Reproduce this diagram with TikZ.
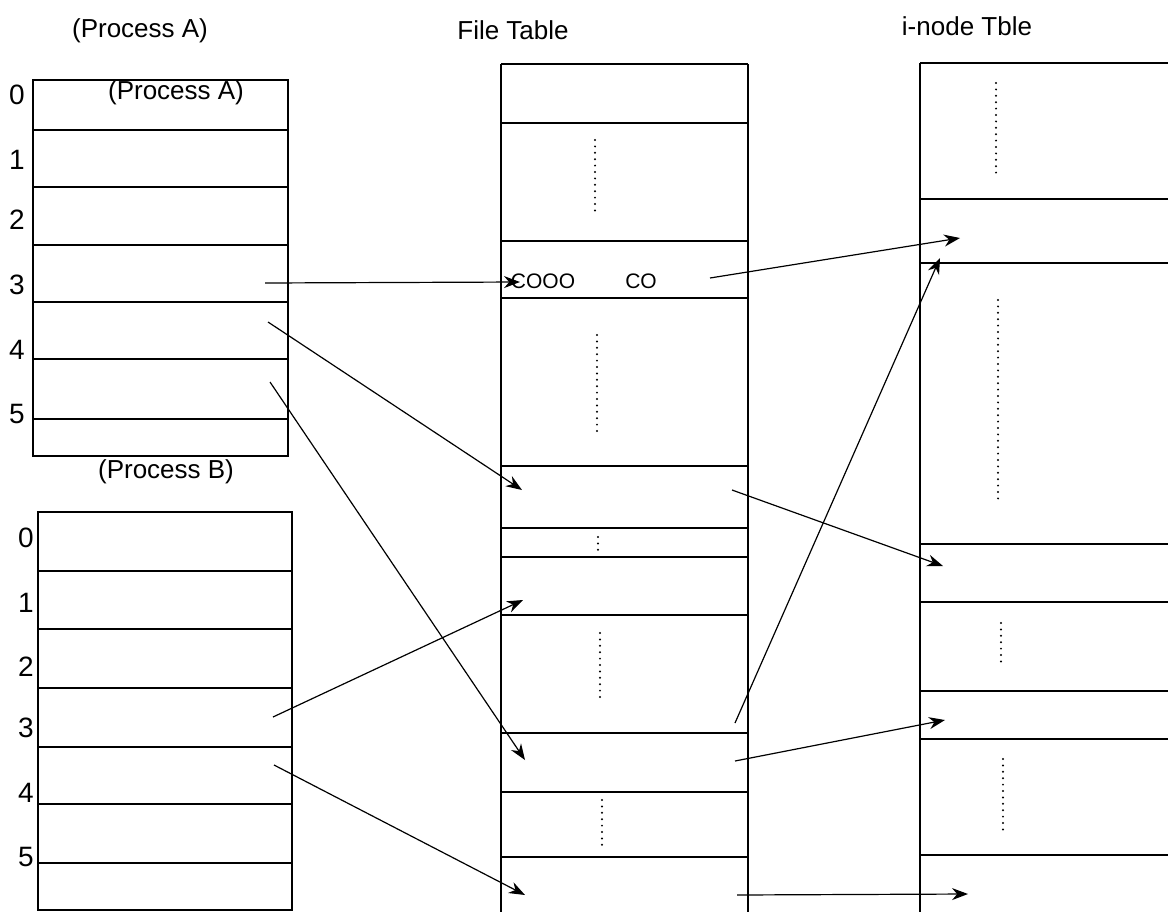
\documentclass[tikz,border=0pt]{standalone}
\usepackage{fontspec}
\setmainfont{Liberation Sans}
\usetikzlibrary{arrows.meta}
\begin{document}
\begin{tikzpicture}[x=0.5pt,y=-0.5pt,
  tbl/.style={line width=1.1pt},
  arr/.style={line width=0.6pt,-{Stealth[length=8pt,width=6pt]}},
  dotcol/.style={line width=1.1pt,line cap=round,dash pattern=on 0pt off 3.2pt},
  lbl/.style={font=\fontsize{13}{15}\selectfont,inner sep=0pt},
  small/.style={font=\fontsize{10.5}{12}\selectfont,inner sep=0pt},
  num/.style={font=\fontsize{14}{16}\selectfont,inner sep=0pt}]
\useasboundingbox (0,0) rectangle (1168,911);
\fill[white] (0,0) rectangle (1168,911);
\clip (0,0) rectangle (1168,911);

% titles
\node[lbl] (tA) at (140,31) {(Process A)};
\node[lbl] (tF) at (513,30) {File Table};
\node[lbl] (tI) at (967,26) {i-node Tble};
\node[lbl] (tAin) at (176,93) {(Process A)};
\node[lbl] (tB) at (166,472) {(Process B)};

% Process A table
\draw[tbl] (33,80) rectangle (288,456);
\foreach \y in {130,187,245,302,359,419} \draw[tbl] (33,\y) -- (288,\y);
\foreach \n/\y in {0/95,1/160,2/220,3/285,4/350,5/414}
  \node[num] (a\n) at (17,\y) {\n};

% Process B table
\draw[tbl] (38,512) rectangle (292,910);
\foreach \y in {571,629,688,747,804,863} \draw[tbl] (38,\y) -- (292,\y);
\foreach \n/\y in {0/538,1/603,2/667,3/728,4/793,5/857}
  \node[num] (b\n) at (26,\y) {\n};

% File table
\draw[tbl] (501,64) -- (748,64);
\draw[tbl] (501,64) -- (501,930);
\draw[tbl] (748,64) -- (748,930);
\foreach \y in {123,241,298,466,528,557,615,733,792,857} \draw[tbl] (501,\y) -- (748,\y);
\draw[dotcol] (595,140) -- (595,215);
\draw[dotcol] (597,335) -- (597,432);
\draw[dotcol] (598,537) -- (598,553);
\draw[dotcol] (600,633) -- (600,702);
\draw[dotcol] (602,800) -- (602,847);
\node[small] (c1) at (543,281) {COOO};
\node[small] (c2) at (641,281) {CO};

% i-node table
\draw[tbl] (920,63) -- (1180,63);
\draw[tbl] (920,63) -- (920,930);
\foreach \y in {199,263,544,602,691,739,855} \draw[tbl] (920,\y) -- (1180,\y);
\draw[dotcol] (996,83) -- (996,177);
\draw[dotcol] (998,300) -- (998,502);
\draw[dotcol] (1001,623) -- (1001,663);
\draw[dotcol] (1003,759) -- (1003,830);

% arrow end points
\coordinate (pA3) at (265,283);
\coordinate (pA4) at (268,322);
\coordinate (pA5) at (270,382);
\coordinate (pB3) at (273,717);
\coordinate (pB4) at (274,765);
\coordinate (fC) at (520,282);
\coordinate (fCO) at (710,278);
\coordinate (f1in) at (522,490);
\coordinate (f1out) at (732,490);
\coordinate (f2in) at (523,600);
\coordinate (f3in) at (525,760);
\coordinate (f3up) at (735,723);
\coordinate (f3out) at (735,761);
\coordinate (f4in) at (525,895);
\coordinate (f4out) at (737,895);
\coordinate (i1) at (960,238);
\coordinate (i1b) at (940,258);
\coordinate (i2) at (943,566);
\coordinate (i3) at (945,720);
\coordinate (i4) at (968,894);

\draw[arr] (pA3) -- (fC);
\draw[arr] (pA4) -- (f1in);
\draw[arr] (pA5) -- (f3in);
\draw[arr] (pB3) -- (f2in);
\draw[arr] (pB4) -- (f4in);
\draw[arr] (fCO) -- (i1);
\draw[arr] (f1out) -- (i2);
\draw[arr] (f3up) -- (i1b);
\draw[arr] (f3out) -- (i3);
\draw[arr] (f4out) -- (i4);
\end{tikzpicture}
\end{document}
